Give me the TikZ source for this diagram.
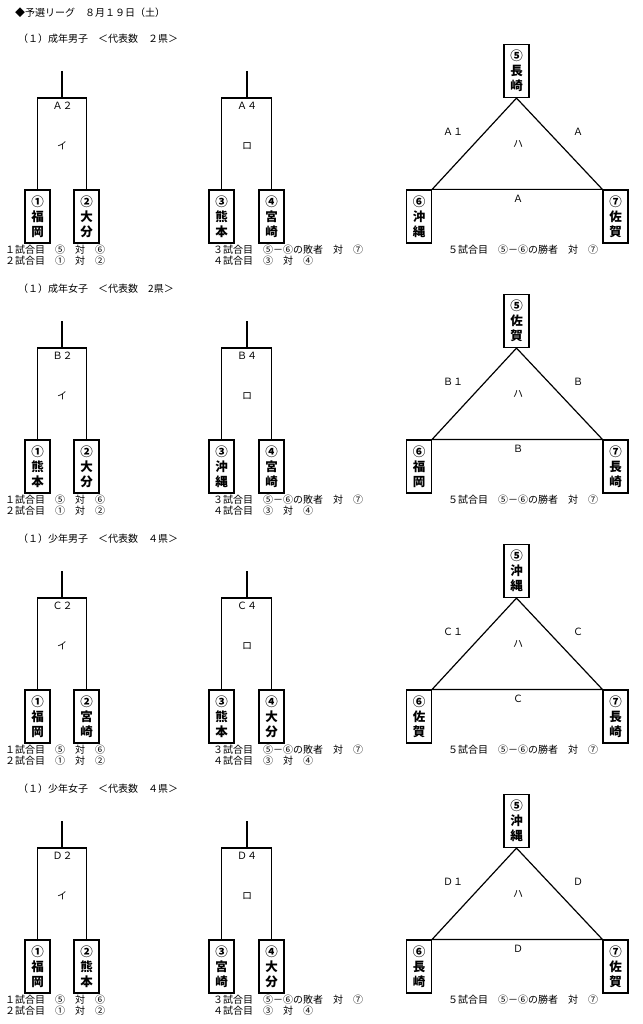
\documentclass[tikz,border=0pt]{standalone}
\usepackage{fontspec}
\setmainfont{Noto Sans CJK JP}
\begin{document}
\tikzset{
 ln/.style={line width=1.2pt},
 bx/.style={draw, line width=1.2pt, minimum width=25pt, minimum height=53pt, inner sep=0pt, align=center, font=\bfseries\fontsize{12.5}{15}\selectfont},
 tx/.style={inner sep=0pt, font=\fontsize{10}{11}\selectfont},
 hd/.style={tx, anchor=west},
}
\newcommand\leaguepart[9]{%
 \node[hd] (hd) at (18,39) {#1};
 \node[bx] (b1) at (37.5,216.5) {#3};
 \node[bx] (b2) at (86.5,216.5) {#4};
 \node[bx] (b3) at (221.5,216.5) {#5};
 \node[bx] (b4) at (271.5,216.5) {#6};
 \node[bx] (b5) at (516.5,71) {#7};
 \node[bx] (b6) at (419,216.5) {#8};
 \node[bx] (b7) at (615.5,216.5) {#9};
 \coordinate (ta) at (62,71); \coordinate (ha) at (62,98);
 \coordinate (tb) at (247,71); \coordinate (hb) at (247,98);
 \draw[ln] (ta) -- (ha);
 \draw[ln] (b1.north) |- (ha) -| (b2.north);
 \draw[ln] (tb) -- (hb);
 \draw[ln] (b3.north) |- (hb) -| (b4.north);
 \draw[ln] (b5.south) -- (b6.north east) -- (b7.north west) -- cycle;
 \node[tx] (la) at (62.5,106) {#2２};
 \node[tx] (ia) at (62,146) {イ};
 \node[tx] (lb) at (247,106) {#2４};
 \node[tx] (ib) at (247,146) {ロ};
 \node[tx] (l1) at (453,132) {#2１};
 \node[tx] (l2) at (578,132) {#2};
 \node[tx] (ic) at (518,144) {ハ};
 \node[tx] (l3) at (518,199) {#2};
 \node[tx,anchor=west] (m1) at (5,250) {１試合目　⑤　対　⑥};
 \node[tx,anchor=west] (m2) at (5,261) {２試合目　①　対　②};
 \node[tx,anchor=west] (m3) at (213,250) {３試合目　⑤－⑥の敗者　対　⑦};
 \node[tx,anchor=west] (m4) at (213,261) {４試合目　③　対　④};
 \node[tx] (m5) at (523,250) {５試合目　⑤－⑥の勝者　対　⑦};
}
\begin{tikzpicture}[x=1pt,y=-1pt]
\useasboundingbox (0,0) rectangle (642,1024);
\node[hd] (title) at (15,13) {◆予選リーグ　８月１９日（土）};
\begin{scope}[name prefix=s1-]
\leaguepart{（１）成年男子　＜代表数　２県＞}{Ａ}{①\\福\\岡}{②\\大\\分}{③\\熊\\本}{④\\宮\\崎}{⑤\\長\\崎}{⑥\\沖\\縄}{⑦\\佐\\賀}
\end{scope}
\begin{scope}[yshift=-250pt,name prefix=s2-]
\leaguepart{（１）成年女子　＜代表数　2県＞}{Ｂ}{①\\熊\\本}{②\\大\\分}{③\\沖\\縄}{④\\宮\\崎}{⑤\\佐\\賀}{⑥\\福\\岡}{⑦\\長\\崎}
\end{scope}
\begin{scope}[yshift=-500pt,name prefix=s3-]
\leaguepart{（１）少年男子　＜代表数　４県＞}{Ｃ}{①\\福\\岡}{②\\宮\\崎}{③\\熊\\本}{④\\大\\分}{⑤\\沖\\縄}{⑥\\佐\\賀}{⑦\\長\\崎}
\end{scope}
\begin{scope}[yshift=-750pt,name prefix=s4-]
\leaguepart{（１）少年女子　＜代表数　４県＞}{Ｄ}{①\\福\\岡}{②\\熊\\本}{③\\宮\\崎}{④\\大\\分}{⑤\\沖\\縄}{⑥\\長\\崎}{⑦\\佐\\賀}
\end{scope}
\end{tikzpicture}
\end{document}
